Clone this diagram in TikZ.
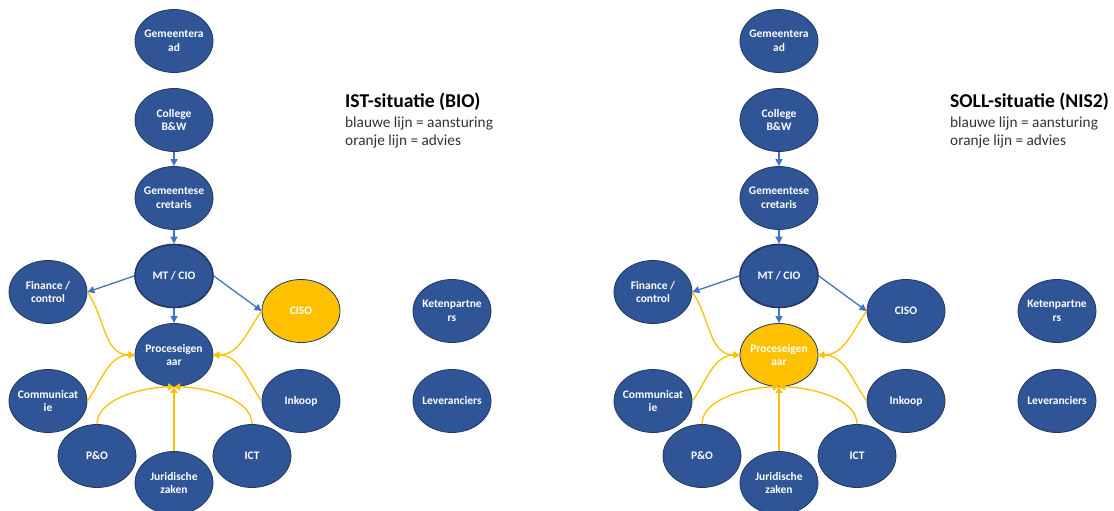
\documentclass[tikz,border=0pt]{standalone}
\usepackage{fontspec}
\setmainfont{Carlito}
\usetikzlibrary{arrows.meta,shapes.geometric}
\definecolor{nodeblue}{HTML}{2F5597}
\definecolor{edgeblue}{HTML}{4472C4}
\definecolor{gold}{HTML}{FFC000}
\definecolor{darkline}{HTML}{203864}
\tikzset{
  org/.style={ellipse, draw=darkline, line width=0.8pt, fill=nodeblue, text=white,
    font=\bfseries\fontsize{11.5}{13.5}\selectfont, minimum width=78pt, minimum height=63pt,
    inner xsep=-12pt, inner ysep=0pt, align=center},
  orggold/.style={org, fill=gold},
  orgthick/.style={org, line width=1.6pt},
  blueline/.style={draw=edgeblue, line width=1.3pt, -{Triangle[length=7pt,width=7pt]}},
  goldline/.style={draw=gold, line width=1.3pt, -{Triangle[length=6pt,width=7pt]}},
  titletext/.style={anchor=base west, font=\bfseries\fontsize{19.6}{22}\selectfont, inner sep=0pt},
  subtext/.style={anchor=base west, font=\fontsize{15.3}{17}\selectfont, text=black!80, inner sep=0pt}
}
\newcommand{\drawchart}[5]{%
  \begin{scope}[xshift=#2pt]
  \node[org] (#1raad) at (174,41) {Gemeentera\\ad};
  \node[org] (#1college) at (174,120) {College\\B\&W};
  \node[org] (#1secr) at (174,198) {Gemeentese\\cretaris};
  \node[orgthick] (#1mt) at (174,276) {MT / CIO};
  \node[org] (#1fin) at (48,292) {Finance /\\control};
  \node[#3] (#1ciso) at (301,311) {CISO};
  \node[#4] (#1proc) at (174,355) {Proceseigen\\aar};
  \node[org] (#1comm) at (48,401) {Communicat\\ie};
  \node[org] (#1ink) at (301,401) {Inkoop};
  \node[org] (#1po) at (97,456) {P\&O};
  \node[org] (#1jur) at (174,483) {Juridische\\zaken};
  \node[org] (#1ict) at (252,456) {ICT};
  \node[org] (#1keten) at (452,311) {Ketenpartne\\rs};
  \node[org] (#1lev) at (452,401) {Leveranciers};
  \node[titletext] (#1title) at (345,107) {#5};
  \node[subtext] (#1sub1) at (345,127) {blauwe lijn = aansturing};
  \node[subtext] (#1sub2) at (345,145) {oranje lijn = advies};
  \draw[blueline] (#1college.south) -- (#1secr.north);
  \draw[blueline] (#1secr.south) -- (#1mt.north);
  \draw[blueline] (#1mt.west) -- (#1fin.east);
  \draw[blueline] (#1mt.east) -- (#1ciso.west);
  \draw[blueline] (#1mt.south) -- (#1proc.north);
  \draw[goldline] (#1fin.east) to[out=-55,in=180] (#1proc.west);
  \draw[goldline] (#1comm.east) to[out=55,in=180] (#1proc.west);
  \draw[goldline] (#1ciso.west) to[out=-125,in=0] (#1proc.east);
  \draw[goldline] (#1ink.west) to[out=125,in=0] (#1proc.east);
  \draw[goldline] (#1po.north) to[out=90,in=180,looseness=0.8] (#1proc.south);
  \draw[goldline] (#1ict.north) to[out=90,in=0,looseness=0.8] (#1proc.south);
  \draw[goldline] (#1jur.north) -- (#1proc.south);
  \end{scope}}
\begin{document}
\begin{tikzpicture}[x=1pt,y=-1pt]
\useasboundingbox[fill=white] (0,0) rectangle (1114,511);
\drawchart{L}{0}{orggold}{org}{IST-situatie (BIO)}
\drawchart{R}{605}{org}{orggold}{SOLL-situatie (NIS2)}
\end{tikzpicture}
\end{document}
